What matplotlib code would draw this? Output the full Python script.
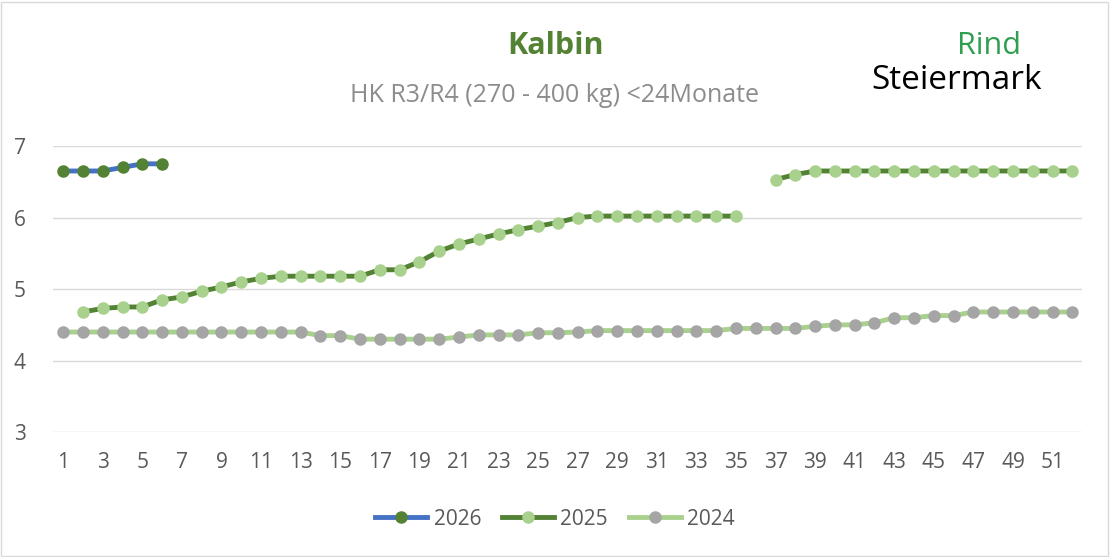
import numpy as np
import matplotlib.pyplot as plt

plt.rcParams['font.family'] = ['Open Sans', 'DejaVu Sans']

weeks = np.arange(1, 53)

y2026 = [6.65, 6.65, 6.65, 6.70, 6.75, 6.75]

y2025 = [np.nan, 4.68, 4.73, 4.75, 4.75, 4.85, 4.89, 4.97, 5.03, 5.10,
         5.15, 5.18, 5.18, 5.18, 5.18, 5.18, 5.27, 5.27, 5.38, 5.53,
         5.63, 5.70, 5.77, 5.83, 5.88, 5.93, 6.00, 6.02, 6.02, 6.02,
         6.02, 6.02, 6.02, 6.02, 6.02, np.nan, 6.53, 6.60, 6.65, 6.65,
         6.65, 6.65, 6.65, 6.65, 6.65, 6.65, 6.65, 6.65, 6.65, 6.65,
         6.65, 6.65]

y2024 = [4.40, 4.40, 4.40, 4.40, 4.40, 4.40, 4.40, 4.40, 4.40, 4.40,
         4.40, 4.40, 4.40, 4.35, 4.35, 4.30, 4.30, 4.30, 4.30, 4.30,
         4.33, 4.36, 4.36, 4.36, 4.39, 4.39, 4.40, 4.42, 4.42, 4.42,
         4.42, 4.42, 4.42, 4.42, 4.45, 4.45, 4.45, 4.45, 4.48, 4.50,
         4.50, 4.53, 4.60, 4.60, 4.63, 4.63, 4.68, 4.68, 4.68, 4.68,
         4.68, 4.68]

fig = plt.figure(figsize=(11.1, 5.57), dpi=100)
ax = fig.add_axes([0.048, 0.224, 0.927, 0.514])

ax.plot(weeks, y2024, color='#a9d18e', lw=3.5, marker='o', ms=8,
        mfc='#a5a5a5', mec='#a5a5a5', label='2024', zorder=2)
ax.plot(weeks, y2025, color='#548235', lw=3.5, marker='o', ms=8,
        mfc='#a9d18e', mec='#a9d18e', label='2025', zorder=3)
ax.plot(weeks[:6], y2026, color='#4472c4', lw=3.5, marker='o', ms=8,
        mfc='#548235', mec='#548235', label='2026', zorder=4)

ax.set_xlim(0.5, 52.5)
ax.set_ylim(3, 7)
ax.set_yticks([3, 4, 5, 6, 7])
ax.set_xticks(np.arange(1, 53, 2))
ax.grid(axis='y', color='#d9d9d9', lw=1)
ax.set_axisbelow(True)
for s in ax.spines.values():
    s.set_visible(False)
ax.tick_params(axis='x', length=0, labelsize=15, colors='#595959', pad=14)
ax.tick_params(axis='y', length=0, labelsize=15, colors='#595959', pad=20)

h, l = ax.get_legend_handles_labels()
fig.legend(h[::-1], l[::-1], loc='center', ncol=3, frameon=False,
           fontsize=15, labelcolor='#595959', bbox_to_anchor=(0.5, 0.068),
           handlelength=2.5, columnspacing=1.0, handletextpad=0.3)

fig.text(0.5, 0.918, 'Kalbin', ha='center', va='center', fontsize=22,
         fontweight='bold', color='#548235')
fig.text(0.5, 0.828, 'HK R3/R4 (270 - 400 kg) <24Monate', ha='center',
         va='center', fontsize=18, color='#8c8c8c')
fig.text(0.862, 0.918, 'Rind', ha='left', va='center', fontsize=22, color='#2e9e4f')
fig.text(0.785, 0.855, 'Steiermark', ha='left', va='center', fontsize=24, color='black')

fig.patches.append(plt.Rectangle((0.001, 0.002), 0.997, 0.995, transform=fig.transFigure,
                                 fill=False, ec='#d9d9d9', lw=1))
fig.savefig('out.png', dpi=100)
